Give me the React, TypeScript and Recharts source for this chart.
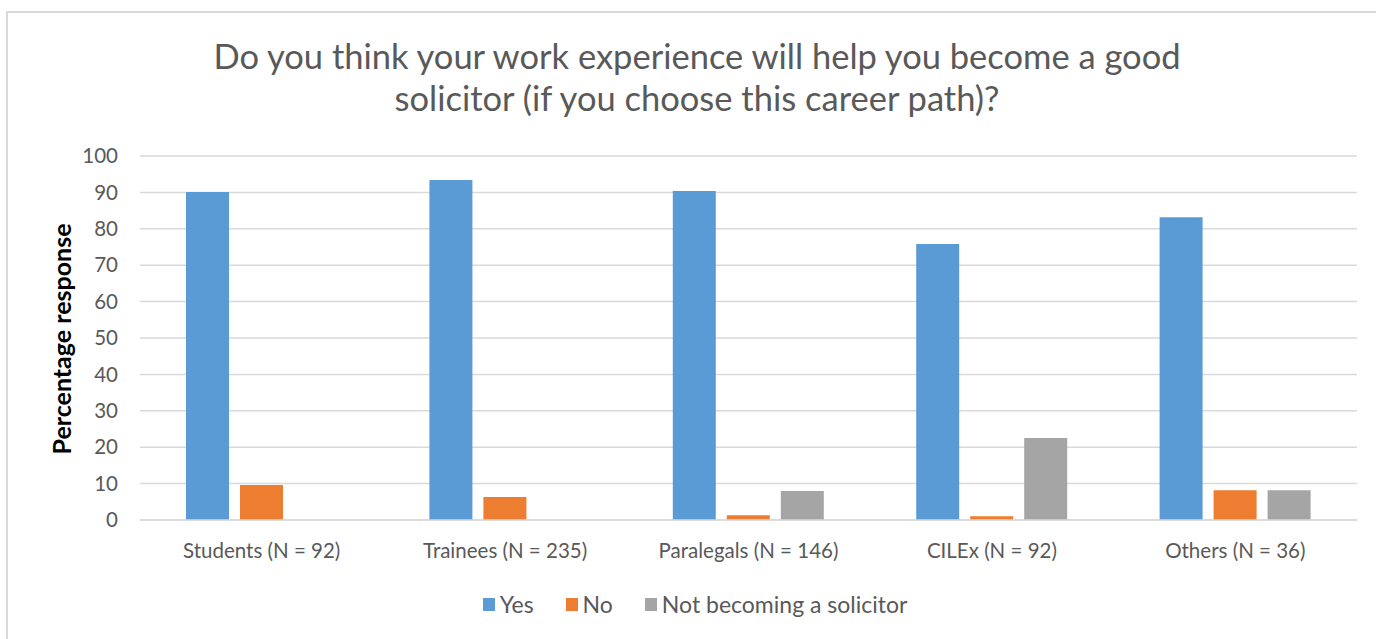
import { BarChart, Bar, XAxis, YAxis, CartesianGrid } from "recharts";

const categories = ["Students (N = 92)", "Trainees (N = 235)", "Paralegals (N = 146)", "CILEx (N = 92)", "Others (N = 36)"];
const yes = [90.1, 93.4, 90.4, 75.8, 83.2];
const no = [9.6, 6.3, 1.3, 1.0, 8.2];
const notSolicitor = [0, 0, 8.0, 22.5, 8.2];
const yTicks = [0, 10, 20, 30, 40, 50, 60, 70, 80, 90, 100];

const series = [
  { key: "yes", name: "Yes", color: "#5b9bd5" },
  { key: "no", name: "No", color: "#ed7d31" },
  { key: "not", name: "Not becoming a solicitor", color: "#a5a5a5" },
];

const data = categories.map((name, i) => ({ name, yes: yes[i], no: no[i], not: notSolicitor[i] }));

const FONT = "Lato, 'Open Sans', sans-serif";

export default function App() {
  return (
    <div style={{ position: "fixed", left: 0, top: 0, width: 1376, height: 639, background: "#fff", fontFamily: FONT, overflow: "hidden" }}>
      <div style={{ position: "absolute", left: 6, top: 11, width: 1400, height: 700, border: "2px solid #d9d9d9" }} />
      <div style={{ position: "absolute", left: 0, top: 35, width: 1394, textAlign: "center", fontSize: 34.5, lineHeight: "42px", color: "#595959" }}>
        Do you think your work experience will help you become a good
        <br />
        solicitor (if you choose this career path)?
      </div>
      <div style={{ position: "absolute", left: 61, top: 339, transform: "translate(-50%, -50%) rotate(-90deg)", whiteSpace: "nowrap", fontSize: 25, fontWeight: 700, color: "#000" }}>
        Percentage response
      </div>
      <div style={{ position: "absolute", left: 0, top: 0 }}>
        <BarChart width={1376} height={639} data={data} margin={{ top: 156, right: 19, left: 0, bottom: 89 }} barCategoryGap="19%" barGap={11}>
          <CartesianGrid vertical={false} stroke="#d9d9d9" strokeWidth={1.5} />
          <XAxis dataKey="name" axisLine={{ stroke: "#d9d9d9", strokeWidth: 1.5 }} tickLine={false} tickSize={0} tickMargin={23} height={30} tick={{ fill: "#595959", fontSize: 20.5 }} interval={0} />
          <YAxis domain={[0, 100]} ticks={yTicks} width={140} axisLine={false} tickLine={false} tickSize={0} tickMargin={22} tick={{ fill: "#595959", fontSize: 20.5 }} interval={0} />
          {series.map((s) => (
            <Bar key={s.key} dataKey={s.key} name={s.name} fill={s.color} barSize={43} isAnimationActive={false} />
          ))}
        </BarChart>
      </div>
      <div style={{ position: "absolute", left: 0, top: 590, width: 1390, display: "flex", justifyContent: "center", alignItems: "center", fontSize: 23, color: "#595959" }}>
        {series.map((s) => (
          <div key={s.key} style={{ display: "flex", alignItems: "center", margin: "0 16px" }}>
            <span style={{ display: "inline-block", width: 12, height: 13, background: s.color, marginRight: 5 }} />
            <span>{s.name}</span>
          </div>
        ))}
      </div>
    </div>
  );
}
